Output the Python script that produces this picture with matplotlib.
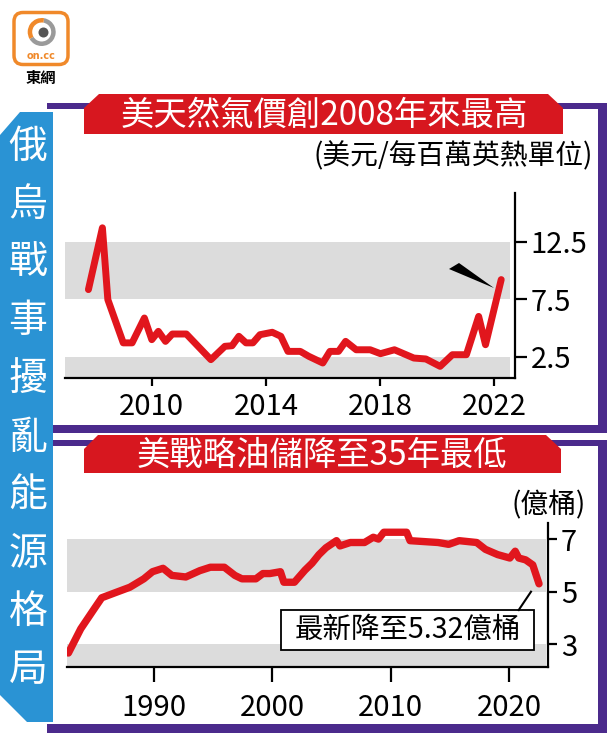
import matplotlib
matplotlib.use('Agg')
import matplotlib.pyplot as plt
from matplotlib.patches import Polygon, Rectangle, FancyBboxPatch, Wedge, Circle

plt.rcParams['font.family'] = ['Noto Sans CJK TC', 'DejaVu Sans']

# US natural gas price (USD per million BTU)
gas_years = [2007.78, 2008.27, 2008.46, 2009.0, 2009.31, 2009.74, 2010.0, 2010.23,
             2010.48, 2010.72, 2011.21, 2012.07, 2012.56, 2012.81, 2013.05, 2013.3,
             2013.54, 2013.79, 2014.22, 2014.52, 2014.77, 2015.2, 2015.5, 2015.99,
             2016.24, 2016.54, 2016.79, 2017.16, 2017.65, 2018.01, 2018.5, 2019.18,
             2019.6, 2020.1, 2020.53, 2021.02, 2021.45, 2021.69, 2022.24]
gas_price = [8.33, 13.7, 7.46, 3.7, 3.7, 5.86, 3.98, 4.7,
             3.83, 4.47, 4.47, 2.24, 3.4, 3.45, 4.27, 3.7,
             3.7, 4.41, 4.62, 4.27, 2.96, 2.96, 2.53, 1.95,
             2.96, 2.96, 3.83, 3.1, 3.1, 2.76, 3.1, 2.38,
             2.3, 1.66, 2.67, 2.67, 6.0, 3.54, 9.2]
gas_ticks = [2010, 2014, 2018, 2022]
gas_yticks = [2.5, 7.5, 12.5]

# US strategic petroleum reserve (hundred million barrels)
spr_years = [1982.82, 1983.86, 1985.04, 1985.63, 1986.81, 1988.0, 1989.18, 1989.91,
             1990.8, 1991.54, 1992.72, 1993.9, 1994.79, 1995.97, 1996.86, 1997.45,
             1998.63, 1999.22, 1999.81, 2000.7, 2000.99, 2001.88, 2002.77, 2003.36,
             2003.95, 2004.54, 2005.43, 2005.72, 2006.6, 2007.79, 2008.53, 2008.97,
             2009.42, 2011.34, 2011.63, 2014.0, 2014.89, 2015.77, 2017.25, 2017.99,
             2019.02, 2020.05, 2020.5, 2020.8, 2021.38, 2021.98, 2022.51]
spr_vals = [2.67, 3.59, 4.38, 4.77, 4.97, 5.17, 5.49, 5.76,
            5.89, 5.62, 5.56, 5.8, 5.93, 5.93, 5.62, 5.49,
            5.49, 5.69, 5.69, 5.76, 5.36, 5.36, 5.82, 6.08,
            6.41, 6.67, 6.94, 6.74, 6.87, 6.87, 7.07, 7.0,
            7.26, 7.26, 6.94, 6.87, 6.8, 6.94, 6.87, 6.61,
            6.41, 6.28, 6.54, 6.28, 6.21, 6.02, 5.3]
spr_ticks = [1990, 2000, 2010, 2020]
spr_yticks = [3, 5, 7]

RED = '#e1161d'
BANNER = '#d7171f'
GRAY = '#dcdcdc'
PURPLE = '#4b2a8c'
BLUE = '#2a93d4'
ORANGE = '#f0892a'

W, H = 609, 733
fig = plt.figure(figsize=(W / 100, H / 100), dpi=100)

# background layer in pixel coordinates
bg = fig.add_axes([0, 0, 1, 1])
bg.set_xlim(0, W)
bg.set_ylim(H, 0)
bg.axis('off')


def rect(x0, y0, x1, y1):
    return [x0 / W, 1 - y1 / H, (x1 - x0) / W, (y1 - y0) / H]


# purple frames
for x0, y0, x1, y1 in [(47, 103, 607, 109), (47, 425, 607, 433), (598, 103, 607, 433),
                       (47, 440, 607, 446), (47, 724, 607, 733), (598, 440, 607, 733)]:
    bg.add_patch(Rectangle((x0, y0), x1 - x0, y1 - y0, color=PURPLE, lw=0, zorder=1))

# red title banners
bg.add_patch(Polygon([(84, 134), (84, 108), (99, 94), (548, 94), (563, 108), (563, 134)],
                     color=BANNER, lw=0, zorder=2))
bg.add_patch(Polygon([(84, 473), (84, 449), (98, 435), (546, 435), (561, 449), (561, 473)],
                     color=BANNER, lw=0, zorder=2))
bg.text(324, 115, '美天然氣價創2008年來最高', color='white', fontsize=24,
        ha='center', va='center', zorder=3)
bg.text(322, 455, '美戰略油儲降至35年最低', color='white', fontsize=24,
        ha='center', va='center', zorder=3)

# blue side banner
bg.add_patch(Polygon([(0, 135), (20, 112), (53, 112), (53, 722), (27, 722), (0, 695)],
                     color=BLUE, lw=0, zorder=2))
for i, ch in enumerate('俄烏戰事擾亂能源格局'):
    bg.text(28, 146.5 + i * 58.2, ch, color='white', fontsize=28,
            ha='center', va='center', zorder=3)

# logo
bg.add_patch(FancyBboxPatch((14, 12.5), 54, 52, boxstyle='round,pad=0,rounding_size=9',
                            facecolor='white', edgecolor=ORANGE, lw=2.5, zorder=2))
bg.add_patch(Wedge((41.7, 32), 14, -80, 150, width=4.5, color='#9a9a9a', lw=0, zorder=3))
bg.add_patch(Wedge((41.7, 32), 14, 150, 280, width=4.5, color=ORANGE, lw=0, zorder=3))
bg.add_patch(Circle((43.5, 32.5), 5, color='#555555', lw=0, zorder=3))
bg.text(41.5, 56, 'on.cc', color=ORANGE, fontsize=7, fontweight='bold',
        ha='center', va='center', family='DejaVu Sans', zorder=3)
bg.text(41, 78, '東網', color='black', fontsize=11, fontweight='bold',
        ha='center', va='center', zorder=3)

# unit labels
bg.text(593, 156, '(美元/每百萬英熱單位)', fontsize=20, ha='right', va='center')
bg.text(586, 505, '(億桶)', fontsize=20, ha='right', va='center')


def style(ax, xlen, ylen, xpad):
    ax.patch.set_alpha(0)
    for s in ['left', 'top']:
        ax.spines[s].set_visible(False)
    for s in ['right', 'bottom']:
        ax.spines[s].set_linewidth(1.6)
    ax.yaxis.tick_right()
    ax.tick_params(axis='x', length=xlen, width=1.6, pad=xpad, labelsize=21)
    ax.tick_params(axis='y', length=ylen, width=1.6, pad=2.5, labelsize=21)


# top chart: natural gas
ax1 = fig.add_axes(rect(65.3, 193.3, 515.2, 378.3))
ax1.set_xlim(2006.97, 2022.73)
ax1.set_ylim(0.62, 16.7)
ax1.axhspan(7.5, 12.5, xmax=0.988, color=GRAY, lw=0, zorder=0)
ax1.axhspan(0.62, 2.5, xmax=0.988, color=GRAY, lw=0, zorder=0)
ax1.plot(gas_years, gas_price, color=RED, lw=5, solid_joinstyle='round',
         solid_capstyle='round', zorder=3)
style(ax1, 6, 8.5, 4)
ax1.set_xticks(gas_ticks)
ax1.set_yticks(gas_yticks)
ax1.set_yticklabels([str(v) for v in gas_yticks])

# bottom chart: strategic petroleum reserve
ax2 = fig.add_axes(rect(67, 523.3, 548.4, 666.7))
ax2.set_xlim(1982.7, 2023.3)
ax2.set_ylim(2.15, 7.6)
ax2.axhspan(5, 7, xmax=0.996, color=GRAY, lw=0, zorder=0)
ax2.axhspan(2.15, 3, xmax=0.996, color=GRAY, lw=0, zorder=0)
ax2.plot(spr_years, spr_vals, color=RED, lw=5.3, solid_joinstyle='round',
         solid_capstyle='round', zorder=3)
style(ax2, 11, 6.5, 8)
ax2.set_xticks(spr_ticks)
ax2.set_yticks(spr_yticks)

# overlay annotations
ov = fig.add_axes([0, 0, 1, 1], zorder=5)
ov.set_xlim(0, W)
ov.set_ylim(H, 0)
ov.axis('off')
ov.patch.set_alpha(0)
ov.add_patch(Polygon([(449, 269), (459, 263), (494, 288)], color='black', lw=0))
ov.plot([518.7, 531], [610, 591.7], color='black', lw=1.5)
ov.add_patch(Rectangle((280.6, 610), 253.8, 40, facecolor='white',
                       edgecolor='black', lw=1.3))
ov.text(407.5, 630, '最新降至5.32億桶', fontsize=20.5, ha='center', va='center')

fig.savefig('out.png', dpi=100)
